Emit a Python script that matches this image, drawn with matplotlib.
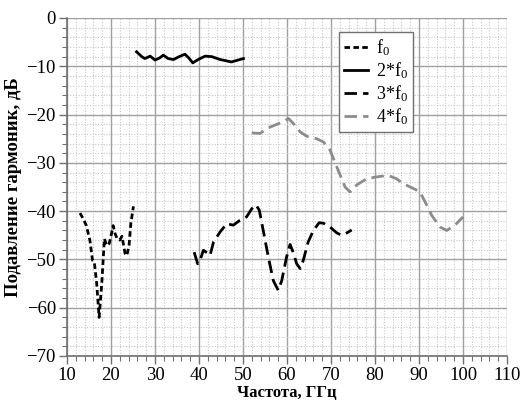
import matplotlib
matplotlib.use("Agg")
import matplotlib.pyplot as plt
from matplotlib.ticker import MultipleLocator

plt.rcParams['font.family'] = ['Liberation Serif', 'DejaVu Serif']
plt.rcParams['mathtext.fontset'] = 'custom'
plt.rcParams['mathtext.rm'] = 'Liberation Serif'
plt.rcParams['mathtext.it'] = 'Liberation Serif'
plt.rcParams['axes.unicode_minus'] = True

# f0
x1 = [12.95, 13.7, 14.4, 15.2, 15.8, 16.2, 16.75, 17.3, 17.9, 18.5, 19.0, 19.6, 20.2, 20.5,
      20.9, 21.4, 22.0, 22.5, 23.2, 23.6, 24.1, 24.5, 25.1]
y1 = [-40.4, -41.6, -43.0, -46.0, -50.2, -50.5, -55.0, -62.0, -55.0, -45.7, -47.1, -46.7, -44.3, -43.0,
      -44.6, -45.7, -46.0, -45.2, -48.8, -49.2, -47.1, -42.6, -39.0]
# 2*f0
x2 = [25.8, 27.0, 27.7, 28.9, 30.0, 31.0, 31.9, 33.0, 34.2, 35.5, 36.8, 37.6, 38.6, 39.8, 41.4,
      42.9, 44.8, 47.4, 48.9, 50.1]
y2 = [-7.0, -8.0, -8.4, -7.9, -8.7, -8.3, -7.7, -8.4, -8.6, -8.0, -7.5, -8.2, -9.3, -8.6, -7.9,
      -8.0, -8.6, -9.1, -8.7, -8.4]
# 3*f0
x3 = [38.9, 39.7, 40.3, 41.0, 41.8, 42.5, 43.3, 44.8, 46.3, 47.8, 49.3, 50.8, 52.0, 52.95, 53.7,
      54.6, 55.75, 56.9, 58.0, 58.8, 59.9, 60.7, 61.4, 62.2, 63.0, 63.7, 64.8, 66.0, 67.3, 68.3,
      69.8, 71.3, 72.4, 73.6, 74.7]
y3 = [-48.5, -50.9, -50.0, -48.1, -48.6, -49.2, -46.4, -44.3, -42.6, -42.9, -41.9, -41.2, -39.5, -38.7, -39.8,
      -44.0, -49.5, -54.4, -56.4, -54.4, -49.5, -46.9, -48.5, -50.9, -51.9, -50.2, -46.4, -44.0, -42.4, -42.5,
      -43.3, -44.5, -45.0, -44.5, -43.9]
# 4*f0
x4 = [52.0, 53.9, 55.4, 57.7, 59.2, 60.3, 61.4, 63.0, 64.5, 66.75, 68.3, 69.8, 71.3, 73.2, 74.3,
      75.8, 78.1, 80.4, 83.0, 84.9, 86.4, 88.7, 90.2, 91.4, 92.9, 94.8, 96.3, 98.2, 100.0]
y4 = [-23.8, -23.9, -22.9, -22.0, -21.5, -20.8, -21.8, -23.6, -24.5, -25.0, -25.7, -27.4, -30.8, -35.0, -36.0,
      -34.6, -33.3, -32.9, -32.6, -33.3, -34.3, -35.3, -36.0, -38.1, -40.9, -43.3, -44.0, -42.9, -41.2]

labels = [r'$\mathrm{f}_0$', r'$\mathrm{2{*}f}_0$', r'$\mathrm{3{*}f}_0$', r'$\mathrm{4{*}f}_0$']

fig = plt.figure(figsize=(5.22, 4.05), dpi=100)
ax = fig.add_axes([67/522, 1 - 356/405, 440/522, 338/405])

ax.plot(x1, y1, color='black', lw=2, linestyle=(0, (2, 1.2)), label=labels[0])
ax.plot(x2, y2, color='black', lw=2, linestyle='-', label=labels[1])
ax.plot(x3, y3, color='black', lw=2, linestyle=(0, (4.5, 2.2)), label=labels[2])
ax.plot(x4, y4, color='#8c8c8c', lw=2, linestyle=(0, (4.5, 2.2)), label=labels[3])

ax.set_xlim(10, 110)
ax.set_ylim(-70, 0)
ax.xaxis.set_major_locator(MultipleLocator(10))
ax.yaxis.set_major_locator(MultipleLocator(10))
ax.xaxis.set_minor_locator(MultipleLocator(2))
ax.yaxis.set_minor_locator(MultipleLocator(2))
ax.grid(which='major', color='#a0a0a0', lw=1.0, linestyle='-')
ax.grid(which='minor', color='#c8c8c8', lw=0.8, linestyle=(0, (1, 1.5)))
ax.set_axisbelow(True)

for s in ['top', 'right']:
    ax.spines[s].set_visible(False)
for s in ['left', 'bottom']:
    ax.spines[s].set_color('#707070')
    ax.spines[s].set_linewidth(1.2)

ax.tick_params(which='major', length=6, width=1, color='#707070', labelsize=13.5, pad=2)
ax.tick_params(which='minor', length=3.5, width=0.8, color='#707070')

ax.set_xlabel('Частота, ГГц', fontsize=12, fontweight='bold', labelpad=1)
ax.set_ylabel('Подавление гармоник, дБ', fontsize=13.5, fontweight='bold', labelpad=3)

leg = ax.legend(loc='upper left', bbox_to_anchor=((339 - 67) / 440, (356 - 32) / 338), fontsize=13,
                frameon=True, fancybox=False, edgecolor='#707070', framealpha=1,
                handlelength=1.3, handletextpad=0.45, labelspacing=0.12, borderpad=0.3,
                borderaxespad=0)
leg.get_frame().set_linewidth(1.0)

fig.savefig('out.png', dpi=100)
